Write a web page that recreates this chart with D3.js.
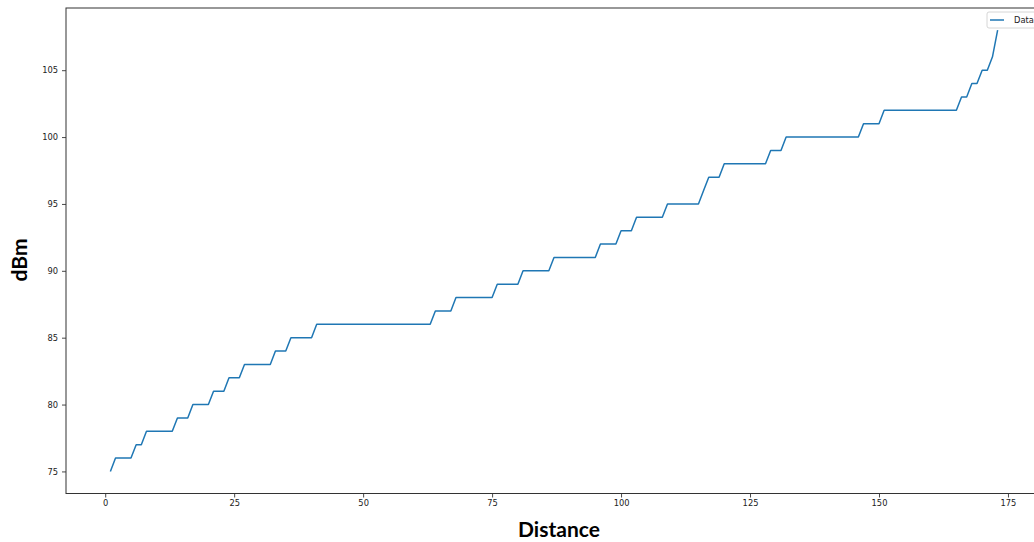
<!DOCTYPE html>
<html>
<head>
<meta charset="utf-8">
<script src="https://cdn.jsdelivr.net/npm/d3@7"></script>
<style>
  html, body { margin: 0; padding: 0; background: #fff; overflow: hidden; }
  svg { display: block; }
</style>
</head>
<body>
<svg id="chart" width="1034" height="542"></svg>
<script>
// ---- data ----
const distance = [
  1,2,3,4,5,6,7,8,9,10,
  11,12,13,14,15,16,17,18,19,20,
  21,22,23,24,25,26,27,28,29,30,
  31,32,33,34,35,36,37,38,39,40,
  41,42,43,44,45,46,47,48,49,50,
  51,52,53,54,55,56,57,58,59,60,
  61,62,63,64,65,66,67,68,69,70,
  71,72,73,74,75,76,77,78,79,80,
  81,82,83,84,85,86,87,88,89,90,
  91,92,93,94,95,96,97,98,99,100,
  101,102,103,104,105,106,107,108,109,110,
  111,112,113,114,115,116,117,118,119,120,
  121,122,123,124,125,126,127,128,129,130,
  131,132,133,134,135,136,137,138,139,140,
  141,142,143,144,145,146,147,148,149,150,
  151,152,153,154,155,156,157,158,159,160,
  161,162,163,164,165,166,167,168,169,170,
  171,172,173
];
const dbm = [
  75,76,76,76,76,77,77,78,78,78,
  78,78,78,79,79,79,80,80,80,80,
  81,81,81,82,82,82,83,83,83,83,
  83,83,84,84,84,85,85,85,85,85,
  86,86,86,86,86,86,86,86,86,86,
  86,86,86,86,86,86,86,86,86,86,
  86,86,86,87,87,87,87,88,88,88,
  88,88,88,88,88,89,89,89,89,89,
  90,90,90,90,90,90,91,91,91,91,
  91,91,91,91,91,92,92,92,92,93,
  93,93,94,94,94,94,94,94,95,95,
  95,95,95,95,95,96,97,97,97,98,
  98,98,98,98,98,98,98,98,99,99,
  99,100,100,100,100,100,100,100,100,100,
  100,100,100,100,100,100,101,101,101,101,
  102,102,102,102,102,102,102,102,102,102,
  102,102,102,102,102,103,103,104,104,105,
  105,106,108
];
const xTicks = [0, 25, 50, 75, 100, 125, 150, 175];
const yTicks = [75, 80, 85, 90, 95, 100, 105];
const seriesName = "Data";
const xLabel = "Distance";
const yLabel = "dBm";

// ---- layout ----
const svg = d3.select("#chart");
const L = 66, R = 1042, T = 8, B = 493.5;
const xs = d3.scaleLinear().domain([-7.6, 181.6]).range([L, R]);
const ys = d3.scaleLinear().domain([73.35, 109.65]).range([B, T]);
const tickFont = "DejaVu Sans, sans-serif";

// x axis
const gx = svg.append("g").attr("transform", `translate(0,${B})`)
  .call(d3.axisBottom(xs).tickValues(xTicks).tickSize(4).tickPadding(3).tickFormat(d3.format("d")));
gx.select(".domain").remove();
gx.selectAll(".tick line").attr("stroke", "#333").attr("stroke-width", 0.9);
gx.selectAll(".tick text").attr("font-family", tickFont).attr("font-size", "8.3px").attr("fill", "#222");

// y axis
const gy = svg.append("g").attr("transform", `translate(${L},0)`)
  .call(d3.axisLeft(ys).tickValues(yTicks).tickSize(4).tickPadding(4).tickFormat(d3.format("d")));
gy.select(".domain").remove();
gy.selectAll(".tick line").attr("stroke", "#333").attr("stroke-width", 0.9);
gy.selectAll(".tick text").attr("font-family", tickFont).attr("font-size", "8.3px").attr("fill", "#222");

// spines
const sp = svg.append("g").attr("stroke", "#333").attr("stroke-width", 1).attr("fill", "none");
sp.append("rect").attr("x", L).attr("y", T).attr("width", R - L).attr("height", B - T);

// line
const pts = distance.map((d, i) => [d, dbm[i]]);
svg.append("path")
  .datum(pts)
  .attr("fill", "none")
  .attr("stroke", "#1f77b4")
  .attr("stroke-width", 1.5)
  .attr("stroke-linejoin", "round")
  .attr("d", d3.line().x(d => xs(d[0])).y(d => ys(d[1])));

// legend
const lg = svg.append("g");
lg.append("rect").attr("x", 987).attr("y", 12).attr("width", 70).attr("height", 16)
  .attr("rx", 2).attr("fill", "#fff").attr("fill-opacity", 0.8).attr("stroke", "#ccc").attr("stroke-width", 0.8);
lg.append("line").attr("x1", 990).attr("x2", 1004).attr("y1", 20).attr("y2", 20)
  .attr("stroke", "#1f77b4").attr("stroke-width", 1.5);
lg.append("text").attr("x", 1014).attr("y", 20).attr("dy", "0.35em")
  .attr("font-family", tickFont).attr("font-size", "8.3px").attr("fill", "#222").text(seriesName);

// axis labels
const labFont = "Lato, 'Liberation Sans', sans-serif";
svg.append("text").attr("x", 559).attr("y", 536.5).attr("text-anchor", "middle")
  .attr("font-family", labFont).attr("font-weight", "bold").attr("font-size", "21px").attr("fill", "#000")
  .text(xLabel);
svg.append("text").attr("transform", "translate(27,260) rotate(-90)").attr("text-anchor", "middle")
  .attr("font-family", labFont).attr("font-weight", "bold").attr("font-size", "21px").attr("fill", "#000")
  .text(yLabel);
</script>
</body>
</html>
